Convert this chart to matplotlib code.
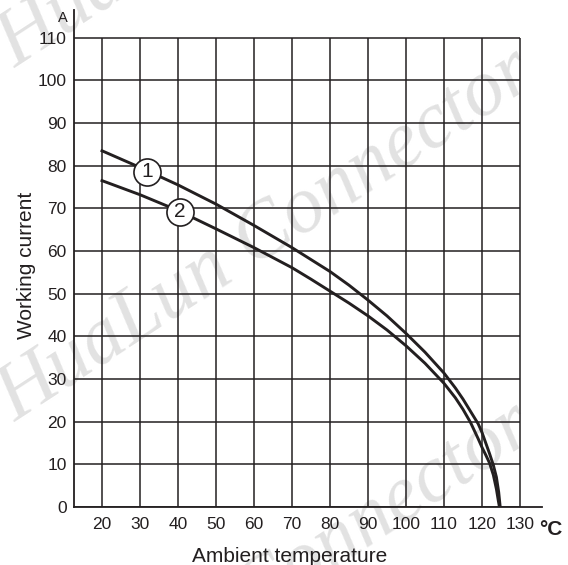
"""
Derating curve: working current vs ambient temperature
Run: python plot.py  -> out.png
"""
import matplotlib
matplotlib.use("Agg")
import matplotlib.pyplot as plt

# ---------- data ----------
temp_1 = [20, 30, 40, 50, 60, 70, 80, 85, 90, 95, 100, 105, 110, 113, 115, 117,
          119, 120, 121, 122, 123, 123.8, 124.4, 124.8]
curr_1 = [83.5, 79.6, 75.5, 71.0, 66.0, 60.8, 55.2, 52.0, 48.5, 44.8, 40.7, 36.3,
          31.4, 27.9, 25.3, 22.4, 19.5, 17.5, 15.0, 12.5, 9.8, 7.0, 3.5, 0.0]

temp_2 = [20, 30, 40, 50, 60, 70, 75, 80, 85, 90, 95, 100, 105, 110, 113, 115,
          117, 119, 120, 121, 122, 123, 123.8, 124.3, 124.6]
curr_2 = [76.5, 73.2, 69.5, 65.2, 60.8, 56.1, 53.4, 50.6, 47.8, 44.8, 41.5, 37.8,
          33.7, 29.0, 25.6, 22.9, 19.8, 16.0, 14.0, 12.2, 10.3, 7.5, 4.2, 1.5, 0.0]

labels = ["1", "2"]
label_x = [31.9, 40.5]
label_y = [78.6, 69.2]

x_ticks = list(range(20, 131, 10))
y_ticks = list(range(0, 111, 10))

INK = "#231f20"
W, H = 568, 565

fig = plt.figure(figsize=(W / 100, H / 100), dpi=100)
ax = fig.add_axes([73.5 / W, 1 - 507 / H, (542 - 73.5) / W, (507 - 10) / H])
ax.set_facecolor("none")

# ---------- watermark (behind everything) ----------
for y0 in (68, 422, 776):
    fig.text(15 / W, 1 - y0 / H, "HuaLun Connector", rotation=33,
             rotation_mode="anchor", ha="left", va="baseline",
             family="Liberation Serif", style="italic", fontsize=58,
             color="#e2e2e2", zorder=-1)

# ---------- grid ----------
ax.hlines(y_ticks, 12.5, 130, color=INK, lw=1.1, zorder=1)
ax.vlines(x_ticks, 0, 110, color=INK, lw=1.1, zorder=1)

# ---------- curves ----------
ax.plot(temp_1, curr_1, color=INK, lw=2.1, zorder=3, solid_joinstyle="round")
ax.plot(temp_2, curr_2, color=INK, lw=2.1, zorder=3, solid_joinstyle="round")

for lab, lx, ly in zip(labels, label_x, label_y):
    ax.plot(lx, ly, "o", ms=19.5, mfc="white", mec=INK, mew=1.2, zorder=4)
    ax.text(lx, ly, lab, ha="center", va="center", fontsize=15,
            family="Liberation Sans", color=INK, zorder=5)

# ---------- axes ----------
ax.set_xlim(12.5, 135.8)
ax.set_ylim(0, 116.5)
ax.spines[["top", "right"]].set_visible(False)
for s in ("left", "bottom"):
    ax.spines[s].set_color(INK)
    ax.spines[s].set_linewidth(1.3)

ax.set_xticks(x_ticks)
ax.set_yticks(y_ticks)
ax.tick_params(length=0, labelsize=12.5, colors=INK)
ax.tick_params(axis="x", pad=7)
ax.tick_params(axis="y", pad=5)
for t in ax.get_xticklabels() + ax.get_yticklabels():
    t.set_family("Liberation Sans")

fig.text(290 / W, 1 - 562 / H, "Ambient temperature", ha="center",
         va="baseline", fontsize=15, family="Liberation Sans", color=INK)
fig.text(32 / W, 1 - 265 / H, "Working current", rotation=90, ha="center",
         va="baseline", fontsize=15, family="Liberation Sans", color=INK,
         rotation_mode="anchor")
fig.text(539 / W, 1 - 535 / H, "°C", ha="left", va="baseline", fontsize=15,
         fontweight="bold", family="Liberation Sans", color=INK)
fig.text(62.5 / W, 1 - 22 / H, "A", ha="center", va="baseline", fontsize=10.5,
         family="Liberation Sans", color=INK)

fig.savefig("out.png", dpi=100)
